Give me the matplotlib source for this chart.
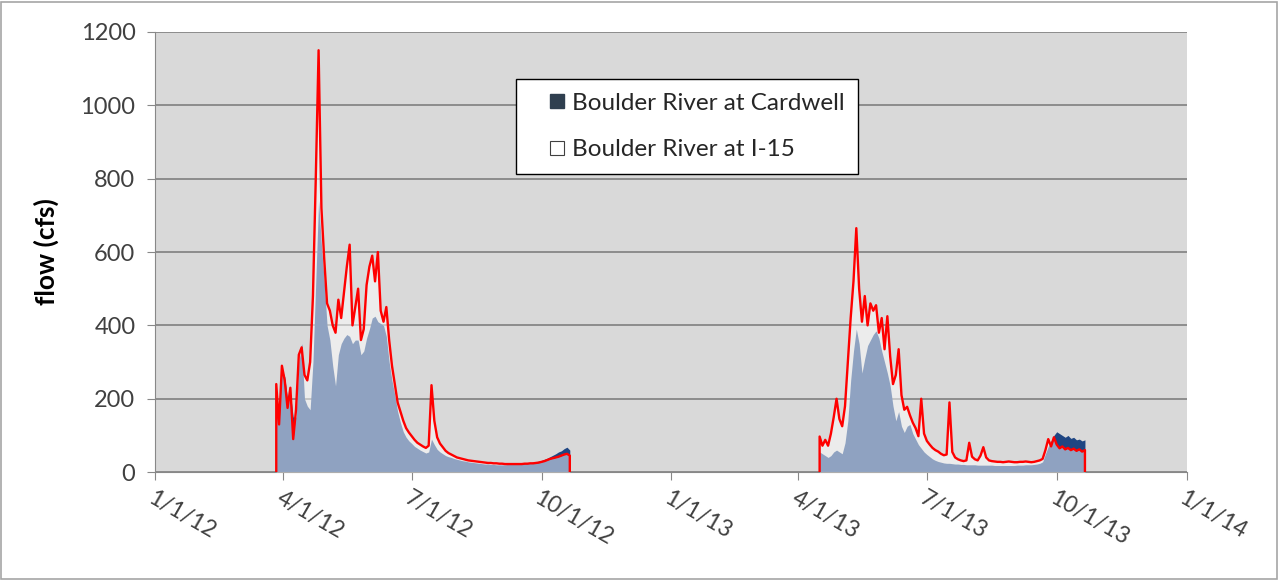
import matplotlib
matplotlib.use("Agg")
import matplotlib.pyplot as plt
import numpy as np
import pandas as pd
from matplotlib.lines import Line2D
from matplotlib.patches import Rectangle

# daily flow readings, one value every 2 days from each start date
start_2012 = "2012-03-27"
start_2013 = "2013-04-16"

cardwell_2012 = [
    200, 170, 280, 260, 200, 215, 150, 150, 300, 350,
    200, 180, 170, 300, 520, 740, 620, 520, 400, 360,
    290, 235, 320, 350, 365, 375, 370, 350, 360, 360,
    320, 330, 365, 390, 420, 425, 410, 405, 400, 370,
    300, 250, 210, 165, 135, 110, 95, 85, 78, 70,
    65, 60, 56, 52, 55, 90, 75, 62, 55, 50,
    45, 42, 40, 37, 35, 33, 31, 30, 28, 27,
    26, 25, 24, 23, 22, 22, 21, 21, 20, 20,
    20, 20, 21, 21, 21, 22, 22, 23, 24, 25,
    26, 27, 28, 30, 32, 35, 38, 42, 46, 50,
    55, 58, 64, 68, 60,
]
i15_2012 = [
    240, 130, 290, 250, 175, 230, 90, 170, 320, 340,
    265, 250, 300, 480, 800, 1150, 720, 580, 460, 440,
    400, 380, 470, 420, 490, 560, 620, 400, 450, 500,
    360, 390, 510, 560, 590, 520, 600, 440, 410, 450,
    360, 290, 240, 190, 165, 140, 120, 108, 98, 88,
    80, 75, 70, 66, 72, 237, 140, 95, 78, 68,
    58, 52, 48, 44, 40, 38, 36, 34, 32, 31,
    30, 29, 28, 27, 26, 25, 25, 24, 24, 23,
    23, 22, 22, 22, 22, 22, 22, 22, 23, 23,
    24, 24, 25, 26, 28, 30, 33, 36, 38, 40,
    42, 45, 48, 50, 45,
]

cardwell_2013 = [
    55, 50, 45, 40, 45, 55, 60, 55, 50, 80,
    140, 250, 330, 390, 350, 270, 310, 345, 360, 375,
    385, 365, 330, 300, 270, 235, 180, 140, 165, 125,
    108, 125, 130, 105, 90, 75, 65, 55, 48, 42,
    36, 32, 29, 27, 25, 24, 24, 23, 22, 22,
    21, 21, 20, 20, 20, 20, 19, 19, 19, 19,
    19, 19, 18, 18, 18, 18, 18, 18, 18, 18,
    19, 19, 19, 20, 20, 20, 21, 22, 24, 28,
    50, 70, 85, 100, 110, 105, 100, 95, 100, 92,
    95, 88, 90, 85, 88,
]
i15_2013 = [
    97, 72, 88, 72, 105, 150, 200, 145, 125, 180,
    300, 420, 520, 665, 500, 410, 480, 400, 460, 440,
    455, 380, 420, 335, 425, 315, 240, 265, 335, 210,
    170, 178, 155, 135, 120, 98, 200, 105, 85, 75,
    66, 60, 56, 50, 46, 48, 190, 55, 40, 35,
    32, 30, 32, 80, 42, 35, 32, 45, 68, 40,
    32, 30, 29, 28, 28, 27, 28, 29, 28, 27,
    27, 28, 28, 29, 28, 27, 28, 30, 32, 36,
    60, 90, 70, 95, 75, 65, 70, 62, 66, 60,
    64, 58, 62, 56, 60,
]

tick_dates = ["2012-01-01", "2012-04-01", "2012-07-01", "2012-10-01", "2013-01-01",
              "2013-04-01", "2013-07-01", "2013-10-01", "2014-01-01"]
y_ticks = [0, 200, 400, 600, 800, 1000, 1200]

navy = "#1F4683"
bg_gray = "#D9D9D9"
grid_gray = "#7F7F7F"
text_col = "#404040"

plt.rcParams["font.family"] = ["Lato", "DejaVu Sans"]

fig = plt.figure(figsize=(12.8, 5.8), dpi=100)
ax = fig.add_axes([0.121, 0.186, 0.806, 0.759])
ax.set_facecolor(bg_gray)

for start, card, i15 in [(start_2012, cardwell_2012, i15_2012),
                         (start_2013, cardwell_2013, i15_2013)]:
    dates = pd.date_range(start, periods=len(card), freq="2D")
    ax.fill_between(dates, card, color=navy, lw=0, zorder=2)
    ax.fill_between(dates, i15, color="white", alpha=0.5, lw=0, zorder=3)
    # outline drops to zero at both ends, like the Excel area border
    edge_x = [dates[0]] + list(dates) + [dates[-1]]
    edge_y = [0] + list(i15) + [0]
    ax.plot(edge_x, edge_y, color="#FF0000", lw=1.7, zorder=4)

ax.set_xlim(pd.Timestamp("2012-01-01"), pd.Timestamp("2014-01-01"))
ax.set_ylim(0, 1200)
ax.set_yticks(y_ticks)
ax.set_yticklabels([str(v) for v in y_ticks], fontsize=17, color=text_col)
ax.yaxis.grid(True, color=grid_gray, lw=1.2)
ax.set_axisbelow(True)

ticks = [pd.Timestamp(t) for t in tick_dates]
ax.set_xticks(ticks)
ax.set_xticklabels([f"{t.month}/{t.day}/{t.strftime('%y')}" for t in ticks],
                   rotation=-30, ha="left", va="top", rotation_mode="anchor",
                   fontsize=16.5, color=text_col)
ax.tick_params(axis="x", direction="out", length=6, color="#888888", pad=5)
ax.tick_params(axis="y", direction="out", length=6, color="#888888", pad=8)

for side in ["top", "right"]:
    ax.spines[side].set_visible(False)
for side in ["left", "bottom"]:
    ax.spines[side].set_color("#888888")

ax.set_ylabel("flow (cfs)", fontsize=19, fontweight="bold", color="black")
ax.yaxis.set_label_coords(-0.093, 0.5)

handles = [
    Line2D([], [], ls="none", marker="s", markersize=9.5, markerfacecolor="#2F3F4F",
           markeredgecolor="#2F3F4F"),
    Line2D([], [], ls="none", marker="s", markersize=10, markerfacecolor="white",
           markeredgecolor="#404040", markeredgewidth=0.8),
]
leg = ax.legend(handles, ["Boulder River at Cardwell", "Boulder River at I-15"],
                loc="upper left", bbox_to_anchor=(0.35, 0.892), fontsize=17.5,
                frameon=True, fancybox=False, framealpha=1, borderpad=0.55,
                labelspacing=1.05, handlelength=2.3, handletextpad=-0.55,
                borderaxespad=0)
leg.get_frame().set_edgecolor("black")
leg.get_frame().set_linewidth(1.0)
for t in leg.get_texts():
    t.set_color("#262626")

fig.patches.append(Rectangle((0.001, 0.002), 0.997, 0.995, transform=fig.transFigure,
                             fill=False, edgecolor="#A6A6A6", lw=1.2))

fig.savefig("out.png", dpi=100)
